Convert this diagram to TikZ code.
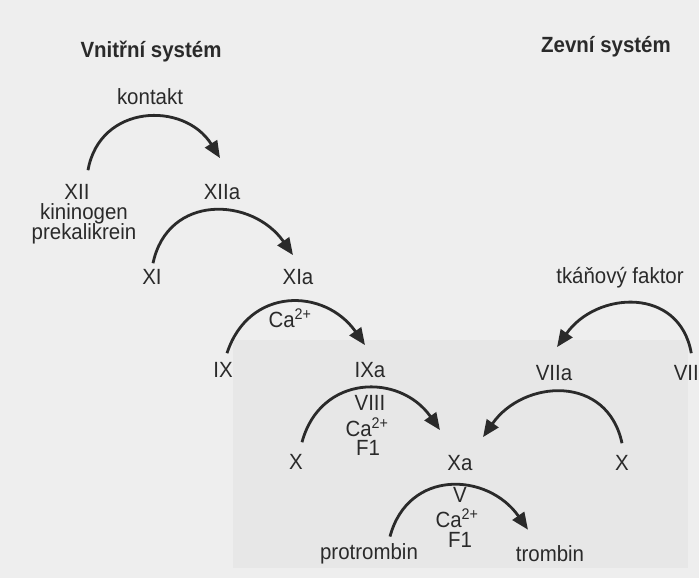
\documentclass[tikz,border=0pt]{standalone}
\usepackage{fontspec}
\setmainfont[FakeStretch=0.93]{Liberation Sans}
\usetikzlibrary{arrows.meta}
\definecolor{bgpaper}{HTML}{EEEEEE}
\definecolor{bgshade}{HTML}{E7E7E7}
\definecolor{ink}{HTML}{2A2A2A}
\tikzset{
  lbl/.style={inner sep=0pt, text=ink, font=\fontsize{22}{26}\selectfont},
  ttl/.style={inner sep=0pt, text=ink, font=\fontsize{22}{26}\selectfont\bfseries},
  arc/.style={draw=ink, line width=2.8pt, looseness=1.3, -{Triangle[length=17pt,width=14pt]}}
}
\begin{document}
\begin{tikzpicture}[x=1pt,y=1pt]
\fill[bgpaper] (0,0) rectangle (699,578);
\fill[bgshade] (233,10) rectangle (688,238);
\useasboundingbox (0,0) rectangle (699,578);
% titles
\node[ttl] (vs) at (151,526) {Vnitřní systém};
\node[ttl] (zs) at (606,531) {Zevní systém};
% intrinsic
\node[lbl] (kontakt) at (150,481) {kontakt};
\node[lbl] (XII) at (77,386) {XII};
\node[lbl] (XIIa) at (222,386) {XIIa};
\node[lbl] (kin) at (84,364) {kininogen};
\node[lbl] (prek) at (84,344) {prekalikrein};
\node[lbl] (XI) at (152,301) {XI};
\node[lbl] (XIa) at (298,301) {XIa};
\node[lbl] (ca1) at (290,260) {Ca\textsuperscript{2+}};
\node[lbl] (IX) at (223,208) {IX};
\node[lbl] (IXa) at (370,208) {IXa};
\node[lbl] (VIII) at (370,175) {VIII};
\node[lbl] (ca2) at (367,151) {Ca\textsuperscript{2+}};
\node[lbl] (F1a) at (368,130) {F1};
\node[lbl] (X1) at (296,116) {X};
\node[lbl] (Xa) at (460,115) {Xa};
% extrinsic
\node[lbl] (tf) at (620,300) {tkáňový faktor};
\node[lbl] (VIIa) at (554,205) {VIIa};
\node[lbl,anchor=east] (VII) at (699,205) {VII};
\node[lbl] (X2) at (622,115) {X};
% common
\node[lbl] (V) at (460,83) {V};
\node[lbl] (ca3) at (457,60) {Ca\textsuperscript{2+}};
\node[lbl] (F1b) at (460,38) {F1};
\node[lbl] (pro) at (369,24) {protrombin};
\node[lbl] (tro) at (550,24) {trombin};
% arcs
\draw[arc] ([xshift=11pt,yshift=14pt]XII.north) to[out=80,in=122] ([xshift=-2pt,yshift=26pt]XIIa.north);
\draw[arc] ([xshift=1pt,yshift=6pt]XI.north) to[out=78,in=125] ([xshift=-5pt,yshift=14pt]XIa.north);
\draw[arc] ([xshift=4pt,yshift=9pt]IX.north) to[out=72,in=125] ([xshift=-5pt,yshift=17pt]IXa.north);
\draw[arc] ([xshift=6pt,yshift=12pt]X1.north) to[out=75,in=125] ([xshift=-20pt,yshift=25pt]Xa.north);
\draw[arc] ([xshift=5pt,yshift=12pt]VII.north) to[out=100,in=55] ([xshift=3pt,yshift=18pt]VIIa.north);
\draw[arc] ([yshift=12pt]X2.north) to[out=102,in=55] ([xshift=23pt,yshift=18pt]Xa.north);
\draw[arc] ([xshift=21pt,yshift=7pt]pro.north) to[out=75,in=125] ([xshift=-22pt,yshift=16pt]tro.north);
\end{tikzpicture}
\end{document}
